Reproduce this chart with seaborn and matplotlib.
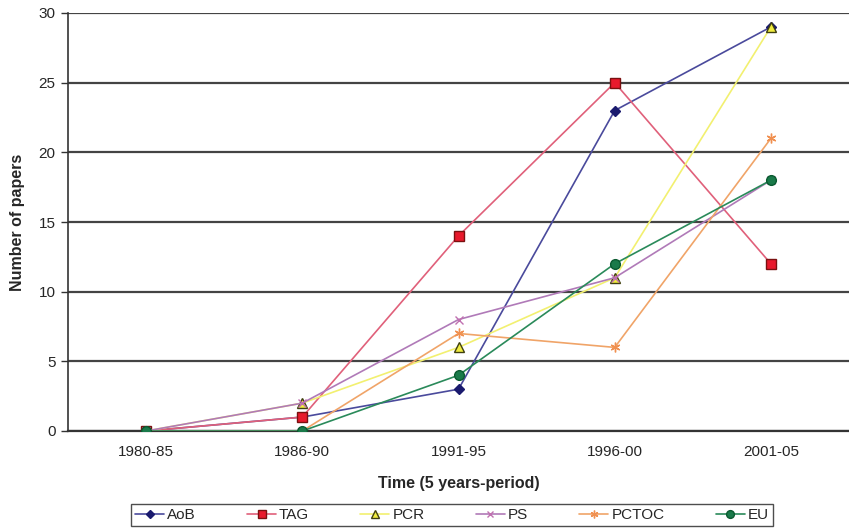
import matplotlib
matplotlib.use("Agg")
import matplotlib.pyplot as plt
import seaborn as sns
import pandas as pd

periods = ["1980-85", "1986-90", "1991-95", "1996-00", "2001-05"]
series_names = ["AoB", "TAG", "PCR", "PS", "PCTOC", "EU"]
aob = [0, 1, 3, 23, 29]
tag = [0, 1, 14, 25, 12]
pcr = [0, 2, 6, 11, 29]
ps = [0, 2, 8, 11, 18]
pctoc = [0, 0, 7, 6, 21]
eu = [0, 0, 4, 12, 18]
y_ticks = [0, 5, 10, 15, 20, 25, 30]

values = [aob, tag, pcr, ps, pctoc, eu]
rows = []
for name, vals in zip(series_names, values):
    for i, v in enumerate(vals):
        rows.append({"series": name, "pos": i, "papers": v})
df = pd.DataFrame(rows)

styles = {
    "AoB":   dict(color="#4a4a9c", marker="D", ms=5, mfc="#1a1a6e", mec="#1a1a6e"),
    "TAG":   dict(color="#e0607a", marker="s", ms=7, mfc="#e8192c", mec="#7a1010"),
    "PCR":   dict(color="#f2f070", marker="^", ms=7, mfc="#f0ec40", mec="#404010"),
    "PS":    dict(color="#b07ab8", marker="x", ms=6, mfc="#c070b0", mec="#c070b0"),
    "PCTOC": dict(color="#f0a468", marker=(6, 2, 0), ms=7, mfc="#f09050", mec="#f09050"),
    "EU":    dict(color="#2a8a5a", marker="o", ms=7, mfc="#1a7a4a", mec="#0a5a30"),
}

sns.set_style("white")
plt.rcParams["font.family"] = ["Liberation Sans", "DejaVu Sans"]

fig = plt.figure(figsize=(8.49, 5.30), dpi=100)
ax = fig.add_axes([68 / 849, 99 / 530, 1 - 68 / 849, (431 - 13) / 530])

for name in series_names:
    st = styles[name]
    sub = df[df["series"] == name]
    sns.lineplot(data=sub, x="pos", y="papers", ax=ax, color=st["color"],
                 linewidth=1.2, marker=st["marker"], markersize=st["ms"],
                 markerfacecolor=st["mfc"], markeredgecolor=st["mec"],
                 markeredgewidth=1.0, label=name, zorder=3)

ax.set_xlim(-0.5, len(periods) - 0.5)
ax.set_ylim(0, 30)
ax.set_yticks(y_ticks)
ax.set_yticklabels([str(t) for t in y_ticks], fontsize=11)
ax.set_xticks(range(len(periods)))
ax.set_xticklabels(periods, fontsize=11)
ax.tick_params(axis="x", length=0, pad=10)
ax.set_xticks([i - 0.5 for i in range(len(periods) + 1)], minor=True)
ax.tick_params(axis="x", which="minor", length=5, width=1, color="#333333", direction="out")
ax.tick_params(axis="y", length=5, width=1, color="#333333", direction="out", left=True, pad=4)

for t in y_ticks:
    ax.axhline(t, color="#444444", linewidth=1.6, zorder=1)

for side in ["top", "right"]:
    ax.spines[side].set_visible(False)
ax.spines["left"].set_color("#333333")
ax.spines["left"].set_linewidth(1.2)
ax.spines["bottom"].set_color("#333333")
ax.spines["bottom"].set_linewidth(1.6)

ax.set_xlabel("Time (5 years-period)", fontsize=11.5, fontweight="bold", labelpad=12)
ax.set_ylabel("Number of papers", fontsize=11.5, fontweight="bold", labelpad=10)

ax.legend(loc="center", bbox_to_anchor=(452 / 849, 15 / 530), bbox_transform=fig.transFigure,
          ncol=6, frameon=True, fancybox=False, edgecolor="#222222", fontsize=11,
          handlelength=1.9, columnspacing=3.35, handletextpad=0.2, borderpad=0.25,
          markerscale=0.8)

fig.savefig("out.png", dpi=100)
